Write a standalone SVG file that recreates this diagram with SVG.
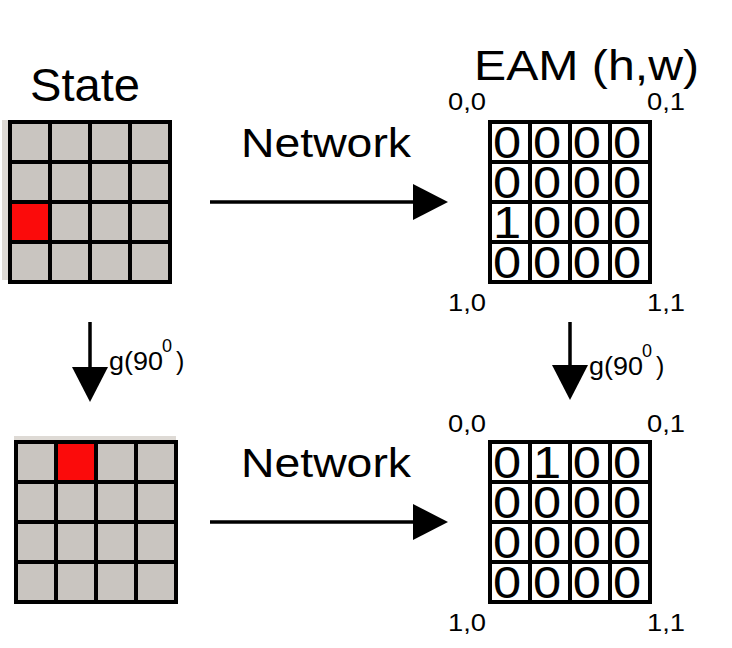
<svg xmlns="http://www.w3.org/2000/svg" width="732" height="648" viewBox="0 0 732 648">
<style>
.t{font-family:"Liberation Sans",Arial,sans-serif;fill:#000}
.grid{fill:none;stroke:#000;stroke-width:4}
.cell{fill:#c9c5c0}
.red{fill:#fb0b0b}
.strip{fill:#dedad5}
.d{font-family:"Liberation Sans",Arial,sans-serif;font-size:44px;text-anchor:middle}
.lbl{font-family:"Liberation Sans",Arial,sans-serif;font-size:23px}
.conn{stroke:#000;stroke-width:3.5;fill:none}
</style>
<defs>
<marker id="ah" markerUnits="userSpaceOnUse" markerWidth="36" markerHeight="36" refX="27" refY="18" orient="auto">
<path d="M0,0 L35,18 L0,36 Z" fill="#000"/>
</marker>
</defs>
<rect width="732" height="648" fill="#fff"/>

<g id="title-state"><text class="t" x="30" y="101" font-size="47" textLength="110" lengthAdjust="spacingAndGlyphs">State</text></g>
<g id="title-eam"><text class="t" x="474" y="80" font-size="42" textLength="225" lengthAdjust="spacingAndGlyphs">EAM (h,w)</text></g>

<g id="state-top">
<rect class="strip" x="2" y="120" width="7" height="160"/>
<rect class="cell" x="10" y="122" width="160" height="160"/>
<rect class="red" x="12" y="204" width="36" height="36"/>
<path class="grid" d="M10,122H170V282H10Z M50,122V282 M90,122V282 M130,122V282 M10,162H170 M10,202H170 M10,242H170"/>
</g>

<g id="state-bottom">
<rect class="strip" x="14" y="436" width="162" height="5"/>
<rect class="cell" x="16" y="442" width="160" height="160"/>
<rect class="red" x="58" y="444" width="36" height="36"/>
<path class="grid" d="M16,442H176V602H16Z M56,442V602 M96,442V602 M136,442V602 M16,482H176 M16,522H176 M16,562H176"/>
</g>

<g id="eam-top">
<rect x="490" y="122" width="160" height="160" fill="#fff"/>
<path class="grid" d="M490,122H650V282H490Z M530,122V282 M570,122V282 M610,122V282 M490,162H650 M490,202H650 M490,242H650"/>
<g transform="scale(1.15,1)">
<text class="d" x="440.9 475.7 510.4 545.2" y="158.5">0000</text>
<text class="d" x="440.9 475.7 510.4 545.2" y="198.5">0000</text>
<text class="d" x="440.9 475.7 510.4 545.2" y="238.5">1000</text>
<text class="d" x="440.9 475.7 510.4 545.2" y="278.5">0000</text>
</g>
<text class="lbl" x="448" y="110" textLength="38" lengthAdjust="spacingAndGlyphs">0,0</text>
<text class="lbl" x="647" y="110" textLength="38" lengthAdjust="spacingAndGlyphs">0,1</text>
<text class="lbl" x="448" y="311" textLength="38" lengthAdjust="spacingAndGlyphs">1,0</text>
<text class="lbl" x="647" y="311" textLength="38" lengthAdjust="spacingAndGlyphs">1,1</text>
</g>

<g id="eam-bottom">
<rect x="490" y="442" width="160" height="160" fill="#fff"/>
<path class="grid" d="M490,442H650V602H490Z M530,442V602 M570,442V602 M610,442V602 M490,482H650 M490,522H650 M490,562H650"/>
<g transform="scale(1.15,1)">
<text class="d" x="440.9 475.7 510.4 545.2" y="478.5">0100</text>
<text class="d" x="440.9 475.7 510.4 545.2" y="518.5">0000</text>
<text class="d" x="440.9 475.7 510.4 545.2" y="558.5">0000</text>
<text class="d" x="440.9 475.7 510.4 545.2" y="598.5">0000</text>
</g>
<text class="lbl" x="448" y="432" textLength="38" lengthAdjust="spacingAndGlyphs">0,0</text>
<text class="lbl" x="647" y="432" textLength="38" lengthAdjust="spacingAndGlyphs">0,1</text>
<text class="lbl" x="448" y="631" textLength="38" lengthAdjust="spacingAndGlyphs">1,0</text>
<text class="lbl" x="647" y="631" textLength="38" lengthAdjust="spacingAndGlyphs">1,1</text>
</g>

<g id="connectors">
<line class="conn" x1="210" y1="202" x2="440" y2="202" marker-end="url(#ah)"/>
<line class="conn" x1="210" y1="522" x2="440" y2="522" marker-end="url(#ah)"/>
<line class="conn" x1="90" y1="322" x2="90" y2="394" marker-end="url(#ah)"/>
<line class="conn" x1="570" y1="322" x2="570" y2="392" marker-end="url(#ah)"/>
<text class="t" x="241" y="157" font-size="41" textLength="170" lengthAdjust="spacingAndGlyphs">Network</text>
<text class="t" x="241" y="477" font-size="41" textLength="170" lengthAdjust="spacingAndGlyphs">Network</text>
<text class="t" font-size="25"><tspan x="109" y="370" textLength="54" lengthAdjust="spacingAndGlyphs">g(90</tspan><tspan x="162" y="352" font-size="18">0</tspan><tspan x="176" y="370">)</tspan></text>
<text class="t" font-size="25"><tspan x="589" y="375" textLength="54" lengthAdjust="spacingAndGlyphs">g(90</tspan><tspan x="642" y="357" font-size="18">0</tspan><tspan x="656" y="375">)</tspan></text>
</g>
</svg>
